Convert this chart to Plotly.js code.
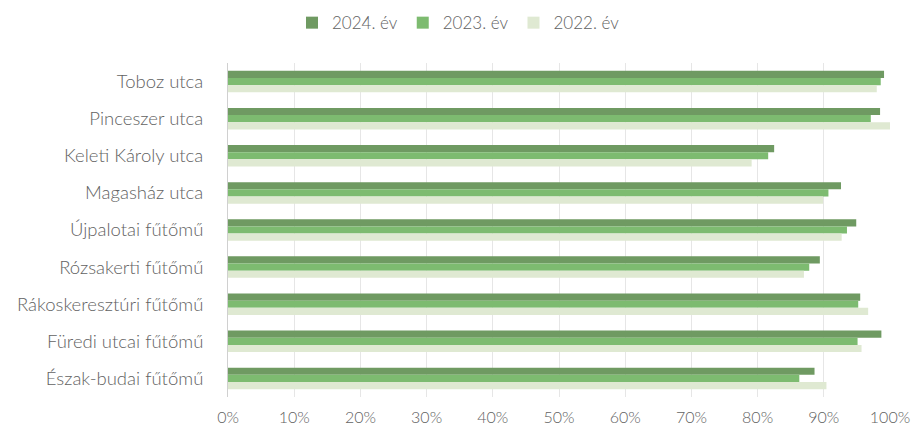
<!DOCTYPE html>
<html>
<head>
<meta charset="utf-8">
<script src="https://cdn.plot.ly/plotly-3.0.1.min.js"></script>
<style>html,body{margin:0;padding:0;background:#fff;}#chart{width:917px;height:436px;}</style>
</head>
<body>
<div id="chart"></div>
<script>
const categories = ["Toboz utca","Pinceszer utca","Keleti Károly utca","Magasház utca","Újpalotai fűtőmű","Rózsakerti fűtőmű","Rákoskeresztúri fűtőmű","Füredi utcai fűtőmű","Észak-budai fűtőmű"];
const seriesNames = ["2024. év","2023. év","2022. év"];
const values2024 = [0.991,0.985,0.825,0.926,0.949,0.894,0.955,0.987,0.886];
const values2023 = [0.986,0.971,0.816,0.907,0.935,0.878,0.952,0.951,0.863];
const values2022 = [0.980,1.000,0.791,0.899,0.927,0.870,0.967,0.957,0.904];
const colors = ["#6f9a62","#7dbb70","#dfe9d2"];
const allValues = [values2024, values2023, values2022];

const traces = allValues.map((v,i)=>({
  type:'bar', orientation:'h', name:seriesNames[i], y:categories, x:v,
  marker:{color:colors[i]}, hoverinfo:'x+y'
}));

const layout = {
  width:917, height:436,
  margin:{l:228,r:27,t:63,b:39},
  paper_bgcolor:'#fff', plot_bgcolor:'#fff',
  font:{family:'Lato, "Open Sans", sans-serif', size:16, color:'#626262', weight:300},
  barmode:'group', bargap:0.42, bargroupgap:0,
  showlegend:true,
  legend:{orientation:'h', xref:'container', yref:'container', x:0.5, xanchor:'center', y:0.947, yanchor:'middle', font:{size:17,color:'#626262', weight:300}, itemwidth:20, tracegroupgap:0},
  xaxis:{range:[0,1.0], tickformat:'.0%', dtick:0.1, showgrid:true, gridcolor:'#e6e6e6', zeroline:false, showline:false, ticks:'', ticklabelstandoff:9, tickfont:{size:16,color:'#626262', weight:300}, fixedrange:true},
  yaxis:{autorange:'reversed', showline:true, linecolor:'#d0d0d0', linewidth:1, ticks:'', ticklabelstandoff:20, tickfont:{size:18.5,color:'#626262', weight:300}, automargin:false, fixedrange:true}
};
Plotly.newPlot('chart', traces, layout, {displayModeBar:false, staticPlot:true});
</script>
</body>
</html>
